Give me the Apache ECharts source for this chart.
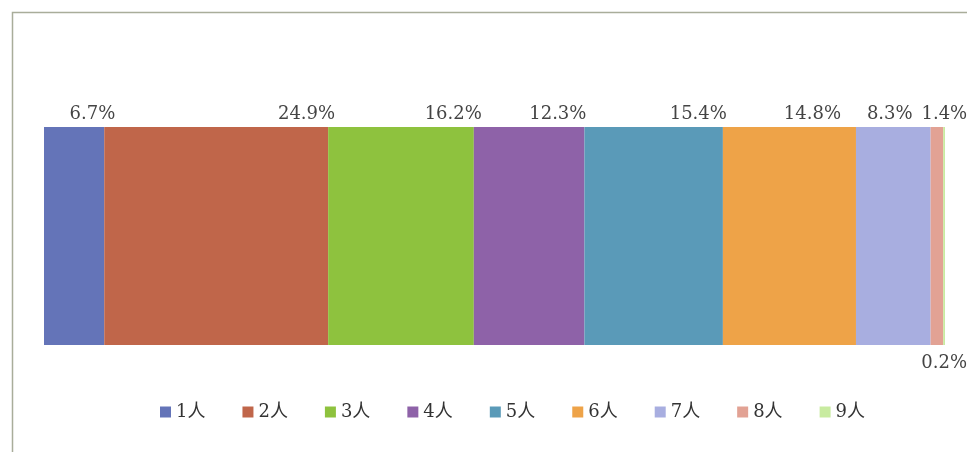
<!DOCTYPE html>
<html>
<head>
<meta charset="utf-8">
<script src="https://cdn.jsdelivr.net/npm/echarts@6/dist/echarts.min.js"></script>
<style>
  html, body { margin: 0; padding: 0; background: #ffffff; }
  #chart { width: 967px; height: 452px; }
</style>
</head>
<body>
<div id="chart"></div>
<script>
// Household size shares (%)
const categories = ['1人', '2人', '3人', '4人', '5人', '6人', '7人', '8人', '9人'];
const shares = [6.7, 24.9, 16.2, 12.3, 15.4, 14.8, 8.3, 1.4, 0.2];

// Segment colours
const colors = ['#6474b8', '#c0664a', '#8ec23e', '#8e62a8', '#5a9ab8',
                '#eea348', '#a8aee0', '#e2a294', '#c8eba0'];
// Horizontal nudge of each value label from the segment's right end (px)
const labelDx = [11, 7, 8, 2, 4, -15, -18, 24, 22];

const total = shares.reduce((a, b) => a + b, 0);
const serif = '"DejaVu Serif", "Liberation Serif", "Noto Sans CJK SC", serif';

const series = categories.map((name, i) => {
  const below = i === categories.length - 1;
  return {
    name: name,
    type: 'bar',
    stack: 'all',
    barWidth: '100%',
    itemStyle: { color: colors[i] },
    label: {
      show: true,
      position: below ? ['100%', '100%'] : ['100%', 0],
      align: 'right',
      verticalAlign: below ? 'top' : 'bottom',
      offset: below ? [labelDx[i], 9] : [labelDx[i], -4],
      formatter: (p) => p.value.toFixed(1) + '%',
      fontFamily: serif,
      fontSize: 18,
      color: '#444444'
    },
    data: [shares[i]]
  };
});

const chart = echarts.init(document.getElementById('chart'), null, { renderer: 'canvas' });
chart.setOption({
  animation: false,
  backgroundColor: '#ffffff',
  grid: { left: 44, right: 22, top: 127, bottom: 107 },
  xAxis: { type: 'value', min: 0, max: total, show: false },
  yAxis: { type: 'category', data: ['世帯'], show: false },
  legend: {
    data: categories,
    left: 155,
    top: 398,
    itemWidth: 11,
    itemHeight: 11,
    itemGap: 37,
    icon: 'rect',
    textStyle: { fontFamily: serif, fontSize: 18, color: '#333' }
  },
  graphic: [{
    type: 'rect',
    shape: { x: 12.5, y: 12.5, width: 1000, height: 500 },
    style: { fill: 'none', stroke: '#a9ad9a', lineWidth: 1.5 },
    silent: true
  }],
  series: series
});
</script>
</body>
</html>
